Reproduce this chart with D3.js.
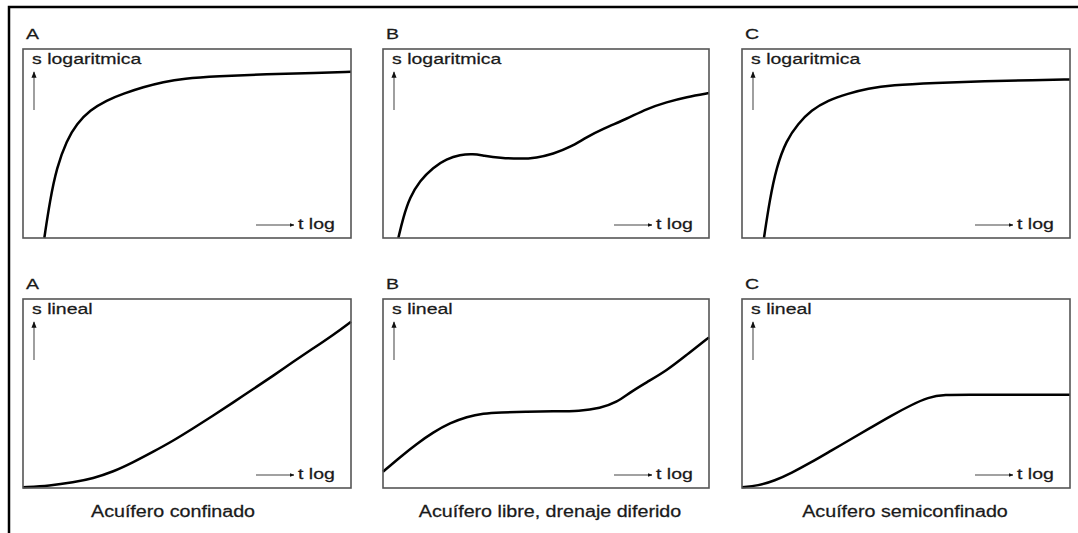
<!DOCTYPE html>
<html>
<head>
<meta charset="utf-8">
<script src="https://cdn.jsdelivr.net/npm/d3@7"></script>
<style>
  body { margin: 0; background: #fff; }
  text { font-family: "Liberation Sans", Arial, sans-serif; fill: #1a1a1a; stroke: #1a1a1a; stroke-width: 0.25px; }
</style>
</head>
<body>
<script>
// curves, x and y both on a 0-100 scale inside each box
var logA = [[6.5,0],[8.2,19.7],[10.3,37.4],[13.3,51.6],[16.4,60.5],[20.4,67.6],[25.5,72.9],[30.6,76.4],[36.7,79.9],[42.8,82.6],[48.9,84.4],[59.1,85.6],[74.3,86.7],[89.5,87.4],[100,87.9]];
var logB = [[4.7,0],[6.2,10.8],[8.2,21.4],[11.3,30.3],[15.4,37.4],[19.5,41.8],[23.6,44.1],[27.7,44.5],[30.8,43.6],[35.9,42.4],[42.0,41.8],[47.1,42.4],[52.2,44.5],[57.4,48.0],[62.5,53.4],[67.6,57.8],[74.8,63.1],[80.9,68.4],[87.0,71.9],[93.1,74.6],[100,76.7]];
var logC = [[6.7,0],[8.4,19.7],[10.5,37.4],[13.5,51.6],[17.1,60.5],[21.1,67.6],[26.2,72.9],[32.3,76.4],[38.4,79.1],[45.5,80.9],[58.8,82.1],[74.0,83.0],[89.2,83.5],[100,83.9]];
var linA = [[0,0.4],[8.2,1.2],[15.3,3.0],[21.4,5.1],[27.5,8.6],[33.6,13.6],[39.7,19.2],[45.8,25.0],[51.9,31.6],[58.0,38.3],[64.1,45.3],[70.2,52.4],[76.3,59.4],[82.4,66.8],[88.5,73.9],[94.6,81.0],[100,88.0]];
var linB = [[0,8.6],[5.2,16.3],[10.3,23.3],[15.4,29.5],[20.6,34.4],[25.7,37.7],[30.8,39.5],[35.9,40.0],[44.1,40.4],[52.2,40.6],[60.4,40.7],[66.6,42.2],[71.7,45.3],[75.8,50.6],[80.8,55.9],[87.0,62.1],[93.1,70.4],[100,79.7]];
var linC = [[0,0.4],[4.9,1.2],[10.0,3.9],[15.0,7.9],[21.1,13.6],[27.2,19.8],[33.3,25.9],[39.4,32.1],[45.5,38.3],[51.6,43.9],[56.7,48.0],[61.8,49.4],[68.9,49.4],[79.1,49.4],[100,49.4]];

var letters = ["A", "B", "C"];
var yLabels = ["s logaritmica", "s lineal"];
var xLabel = "t log";
var captions = ["Acuífero confinado", "Acuífero libre, drenaje diferido", "Acuífero semiconfinado"];
var curves = [[logA, logB, logC], [linA, linB, linC]];

var W = 1078, H = 533;
var colLeft = [23, 383, 742];
var colWidth = [328, 326, 328];
var rowTop = [49, 299];
var boxH = 189;
var captionX = [173, 550, 905];
var stretch = 1.3;

var svg = d3.select("body").append("svg")
    .attr("width", W)
    .attr("height", H);

// outer frame (only left and top edges show)
svg.append("path")
    .attr("d", "M9," + H + "V7H" + W)
    .attr("fill", "none")
    .attr("stroke", "#000")
    .attr("stroke-width", 2.5);

var defs = svg.append("defs");
defs.append("marker")
    .attr("id", "head")
    .attr("viewBox", "0 0 10 10")
    .attr("refX", 9).attr("refY", 5)
    .attr("markerWidth", 4).attr("markerHeight", 4)
    .attr("orient", "auto")
    .append("path")
    .attr("d", "M0,1L10,5L0,9Z")
    .attr("fill", "#111");

// text squeezed wider, the scan is stretched sideways
function label(g, x, y, str, size, anchor, sx) {
    return g.append("text")
        .attr("transform", "translate(" + x + "," + y + ") scale(" + (sx || stretch) + ",1)")
        .attr("font-size", size + "px")
        .attr("text-anchor", anchor || "start")
        .text(str);
}

var line = d3.line().curve(d3.curveBasis);

rowTop.forEach(function(top, r) {
    colLeft.forEach(function(left, c) {
        var w = colWidth[c];
        var x = d3.scaleLinear().domain([0, 100]).range([left, left + w]);
        var y = d3.scaleLinear().domain([0, 100]).range([top + boxH, top]);
        var g = svg.append("g");

        label(g, left + 3, top - 10, letters[c], 15);

        g.append("path")
            .attr("d", line.x(function(d) { return x(d[0]); })
                           .y(function(d) { return y(d[1]); })(curves[r][c]))
            .attr("fill", "none")
            .attr("stroke", "#000")
            .attr("stroke-width", 2.5)
            .attr("stroke-linejoin", "round");

        g.append("rect")
            .attr("x", left).attr("y", top)
            .attr("width", w).attr("height", boxH)
            .attr("fill", "none")
            .attr("stroke", "#555")
            .attr("stroke-width", 1.6);

        label(g, left + 9, top + 15, yLabels[r], 15);

        // up arrow
        g.append("line")
            .attr("x1", left + 11).attr("x2", left + 11)
            .attr("y1", top + 61).attr("y2", top + 23)
            .attr("stroke", "#888")
            .attr("stroke-width", 1.6)
            .attr("marker-end", "url(#head)");

        // right arrow + t log
        g.append("line")
            .attr("x1", left + w - 95).attr("x2", left + w - 57)
            .attr("y1", top + boxH - 13).attr("y2", top + boxH - 13)
            .attr("stroke", "#444")
            .attr("stroke-width", 1.2)
            .attr("marker-end", "url(#head)");

        label(g, left + w - 53, top + boxH - 9, xLabel, 15);

        if (r === 1) {
            label(g, captionX[c], 517, captions[c], 16, "middle", 1.23);
        }
    });
});
</script>
</body>
</html>
